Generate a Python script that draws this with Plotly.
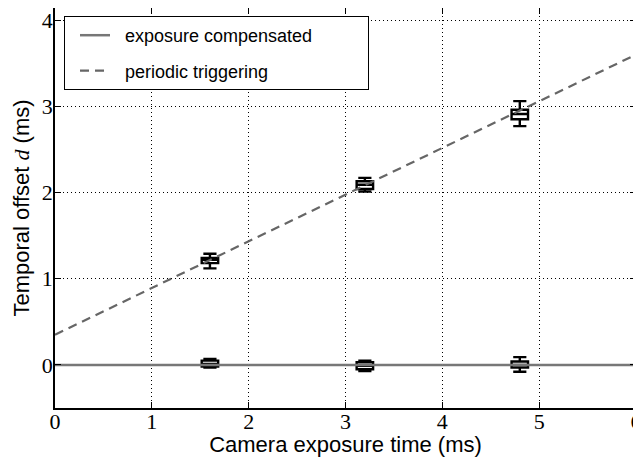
import plotly.graph_objects as go

# Data
exposure_ms = [1.6, 3.2, 4.8]

# periodic triggering box statistics (ms)
per_low = [1.12, 2.01, 2.77]
per_q1 = [1.18, 2.04, 2.85]
per_med = [1.22, 2.09, 2.91]
per_q3 = [1.24, 2.13, 2.96]
per_high = [1.29, 2.17, 3.06]

# exposure compensated box statistics (ms)
comp_low = [-0.03, -0.07, -0.08]
comp_q1 = [-0.02, -0.05, -0.03]
comp_med = [0.01, -0.01, 0.0]
comp_q3 = [0.05, 0.03, 0.04]
comp_high = [0.07, 0.05, 0.09]

# model lines
line_x = [0, 6]
comp_line_y = [0, 0]
per_line_y = [0.35, 3.6]

lead = "\u00a0" * 2
pad = "\u00a0" * 10

fig = go.Figure()

fig.add_trace(go.Scatter(x=line_x, y=comp_line_y, mode="lines",
                         line=dict(color="#777777", width=2.5),
                         name=lead + "exposure compensated" + pad, legendgroup="a"))
fig.add_trace(go.Scatter(x=line_x, y=per_line_y, mode="lines",
                         line=dict(color="#666666", width=2.2, dash="9px,6px"),
                         name=lead + "periodic triggering", legendgroup="b"))

for low, q1, med, q3, high in [(per_low, per_q1, per_med, per_q3, per_high),
                               (comp_low, comp_q1, comp_med, comp_q3, comp_high)]:
    fig.add_trace(go.Box(x=exposure_ms, lowerfence=low, q1=q1, median=med,
                         q3=q3, upperfence=high, width=0.17, whiskerwidth=0.8,
                         fillcolor="white", line=dict(color="black", width=2.4),
                         showlegend=False, hoverinfo="skip"))

tickfont = dict(family="Liberation Serif", size=22, color="black")
axis_common = dict(showline=True, linecolor="black", linewidth=1.5, mirror="ticks",
                   ticks="inside", ticklen=6, tickcolor="black",
                   showgrid=True, gridcolor="black", griddash="1px,3px", gridwidth=1,
                   zeroline=False, tickfont=tickfont, automargin=False,
                   ticklabeloverflow="allow")

fig.update_layout(
    width=633, height=449,
    margin=dict(l=47, r=5, t=0, b=49),
    plot_bgcolor="white", paper_bgcolor="white",
    font=dict(family="Liberation Sans", size=18, color="black"),
    xaxis=dict(range=[0, 6], tickvals=[0, 1, 2, 3, 4, 5, 6], ticklabelstandoff=-7,
               title=dict(text="Camera exposure time (ms)", standoff=0,
                          font=dict(size=22)), **axis_common),
    yaxis=dict(range=[-0.5, 4.14], tickvals=[0, 1, 2, 3, 4], ticklabelstandoff=-4,
               title=dict(text='Temporal offset <span style="font-family:Liberation Serif"><i>d</i></span> (ms)',
                          standoff=6, font=dict(size=22)), **axis_common),
    legend=dict(x=0.0155, y=0.98, xanchor="left", yanchor="top",
                bordercolor="black", borderwidth=1, bgcolor="white",
                font=dict(size=18), tracegroupgap=9, indentation=10),
    showlegend=True,
)

fig.write_html("out.html")
